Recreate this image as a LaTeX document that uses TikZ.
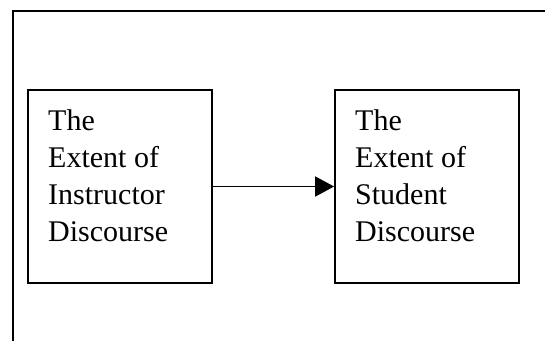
\documentclass[tikz,border=0pt]{standalone}
\usepackage{fontspec}
\setmainfont{Liberation Serif}
\usetikzlibrary{arrows.meta}
\begin{document}
\begin{tikzpicture}[x=1pt,y=1pt,
  box/.style={draw=black, line width=1.8pt, minimum width=184pt, minimum height=193pt, inner sep=0pt},
  label text/.style={anchor=north west, inner sep=0pt, align=left, font=\fontsize{30pt}{37pt}\selectfont},
  conn/.style={line width=1.8pt, -{Triangle[length=19pt,width=20pt]}}]
\useasboundingbox (0,0) rectangle (545,-341);
\draw[line width=2pt] (13,-341) -- (13,-11) -- (546,-11);
\node[box] (L) at (120,-186.5) {};
\node[box] (R) at (427,-186.5) {};
\node[label text] (Lt) at (48,-109.5) {The\\Extent of\\Instructor\\Discourse};
\node[label text] (Rt) at (355,-109.5) {The\\Extent of\\Student\\Discourse};
\draw[conn] (L.east) -- (R.west);
\end{tikzpicture}
\end{document}
